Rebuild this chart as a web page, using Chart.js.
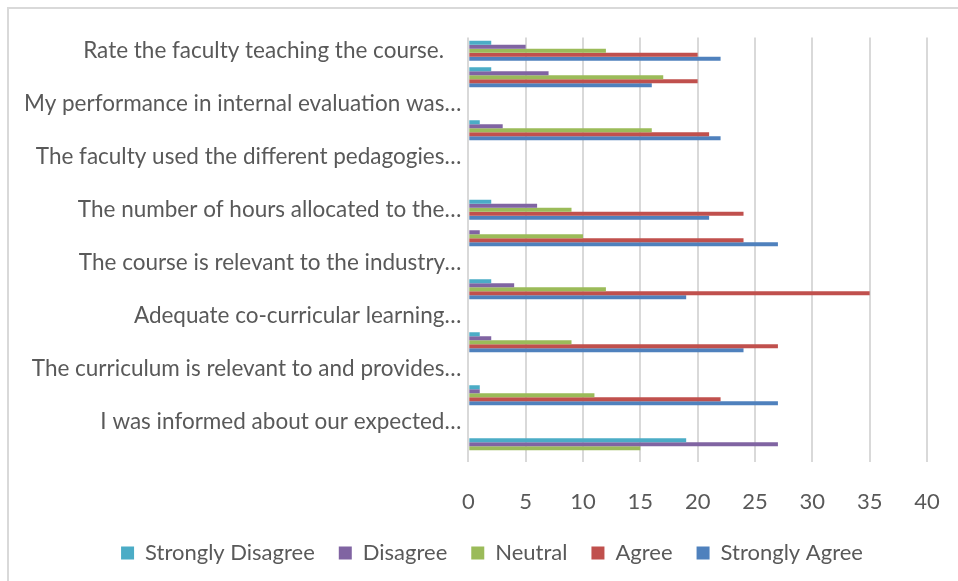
<!DOCTYPE html>
<html>
<head>
<meta charset="utf-8">
<script src="https://cdn.jsdelivr.net/npm/chart.js@4/dist/chart.umd.min.js"></script>
<style>
  html, body { margin: 0; padding: 0; background: #fff; overflow: hidden; }
  #wrap { position: relative; width: 958px; height: 581px; overflow: hidden; }
  #frame { position: absolute; left: 7px; top: 7px; width: 1200px; height: 1200px; border: 2px solid #d9d9d9; box-sizing: border-box; }
  canvas { position: absolute; left: 0; top: 0; }
</style>
</head>
<body>
<div id="wrap">
  <div id="frame"></div>
  <canvas id="c" width="958" height="581"></canvas>
</div>
<script>
// Categories (top to bottom); labels Excel skipped are left blank
const categories = [
  "Rate the faculty teaching the course.   ",
  "",
  "My performance in internal evaluation was…",
  "",
  "The faculty used the different pedagogies…",
  "",
  "The number of hours allocated to the…",
  "",
  "The course is relevant to the industry…",
  "",
  "Adequate co-curricular learning…",
  "",
  "The curriculum is relevant to and provides…",
  "",
  "I was informed about our expected…",
  ""
];
const seriesNames = ["Strongly Disagree", "Disagree", "Neutral", "Agree", "Strongly Agree"];
const stronglyDisagree = [2, 2, null, 1, null, null, 2, 0, null, 2, null, 1, null, 1, null, 19];
const disagree         = [5, 7, null, 3, null, null, 6, 1, null, 4, null, 2, null, 1, null, 27];
const neutral          = [12, 17, null, 16, null, null, 9, 10, null, 12, null, 9, null, 11, null, 15];
const agree            = [20, 20, null, 21, null, null, 24, 24, null, 35, null, 27, null, 22, null, null];
const stronglyAgree    = [22, 16, null, 22, null, null, 21, 27, null, 19, null, 24, null, 27, null, null];
const xTicks = [0, 5, 10, 15, 20, 25, 30, 35, 40];

const colors = ["#4BACC6", "#8064A2", "#9BBB59", "#C0504D", "#4F81BD"];
const seriesData = [stronglyDisagree, disagree, neutral, agree, stronglyAgree];

const FONT = "Lato, 'Open Sans', sans-serif";
const TEXT = "#595959";

// shift the bottom legend so it is centred like the original (Excel centres it on the whole frame)
const legendShift = {
  id: 'legendShift',
  afterLayout(chart) {
    const lg = chart.legend;
    if (lg) { lg.left += 28.5; lg.right += 28.5; }
  }
};

new Chart(document.getElementById('c'), {
  type: 'bar',
  data: {
    labels: categories,
    datasets: seriesNames.map((n, i) => ({
      label: n,
      data: seriesData[i],
      backgroundColor: colors[i],
      borderWidth: 0,
      barPercentage: 0.95,
      categoryPercentage: 0.755
    }))
  },
  plugins: [legendShift],
  options: {
    indexAxis: 'y',
    responsive: false,
    animation: false,
    layout: { padding: { left: 0, right: 31, top: 37.5, bottom: 7 } },
    plugins: {
      legend: {
        position: 'bottom',
        labels: {
          font: { family: FONT, size: 22 },
          color: TEXT,
          boxWidth: 13,
          boxHeight: 13,
          padding: 24
        }
      },
      tooltip: { enabled: false }
    },
    scales: {
      x: {
        min: 0, max: 40,
        afterBuildTicks: s => { s.ticks = xTicks.map(v => ({ value: v })); },
        grid: { color: "#d9d9d9", lineWidth: 2, drawTicks: false },
        border: { display: false },
        ticks: { font: { family: FONT, size: 22 }, color: TEXT, padding: 27 },
        afterFit: s => { s.height = 56.5; s.paddingLeft = 0; s.paddingRight = 0; }
      },
      y: {
        grid: { display: false, drawTicks: false },
        border: { display: false },
        ticks: { autoSkip: false, font: { family: FONT, size: 22.5 }, color: TEXT, padding: 7 },
        afterFit: s => { s.width = 468.3; }
      }
    }
  }
});
</script>
</body>
</html>
